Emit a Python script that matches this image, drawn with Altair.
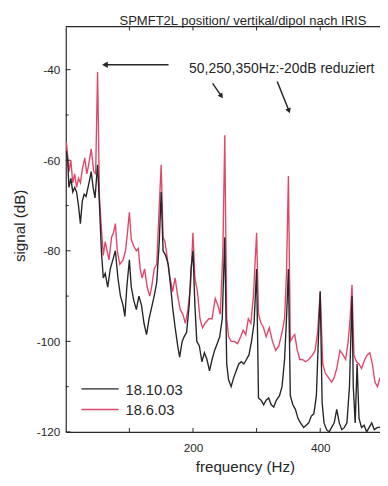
import altair as alt
import pandas as pd

# ---------------- data ----------------
series_names = ["18.10.03", "18.6.03"]

red_freq = [1, 3, 5, 8, 11, 14, 17, 20, 23, 26, 30, 33, 36, 40, 44, 47, 50, 53, 56, 59,
            62, 65, 68, 72, 75, 78, 81, 85, 90, 94, 97, 100, 103, 107, 111, 114, 117, 120, 124, 128,
            132, 135, 139, 143, 147, 150, 153, 156, 160, 164, 168, 172, 176, 180, 184, 188, 192, 196, 200, 203,
            207, 211, 215, 219, 225, 230, 235, 239, 243, 247, 250, 253, 256, 260, 265, 270, 275, 279, 283, 287,
            291, 295, 300, 303, 307, 311, 315, 320, 325, 330, 335, 340, 344, 347, 350, 353, 357, 360, 364, 368,
            372, 377, 382, 388, 392, 396, 400, 404, 408, 413, 418, 422, 426, 431, 436, 440, 444, 447, 450, 453,
            457, 461, 465, 470, 474, 478, 482, 486, 490, 494]
red_signal = [-56, -59, -62.5, -60, -65, -63, -66, -64, -65, -62, -59.5, -63, -61, -57.5, -62.5, -63, -40.5, -68, -75, -81,
              -78, -80, -82, -77, -76, -74, -80, -83, -82, -80, -76, -71.5, -77.5, -79, -80, -79.5, -84, -86, -84, -88,
              -90, -88, -84, -83, -70, -61, -77, -78, -82, -86, -89, -86, -90, -93, -94, -96, -93, -88, -76, -86,
              -89, -95, -97, -96, -95, -95, -90.5, -92, -94, -80, -54.5, -95, -99, -100, -100, -100.5, -99, -97.5, -98.5, -95,
              -96, -90, -76, -94, -96, -97, -99, -97, -100, -102, -101, -98, -95, -85, -63.5, -100, -99, -98.5, -102, -104,
              -104, -104.5, -104, -103, -102, -98, -89, -105, -107, -108, -109, -108, -106, -102, -103, -104, -100, -95, -87.5, -103,
              -104.5, -105, -106, -104, -103, -102.5, -105, -109, -110, -108]

black_freq = [1, 3, 5, 8, 11, 14, 17, 20, 23, 26, 29, 32, 35, 38, 40, 43, 46, 50, 53, 56,
              59, 62, 66, 70, 74, 78, 82, 86, 90, 93, 96, 100, 103, 107, 111, 115, 119, 123, 127, 131,
              135, 139, 143, 147, 150, 153, 157, 161, 165, 168, 172, 176, 179, 183, 186, 190, 194, 197, 200, 203,
              206, 210, 214, 218, 222, 226, 230, 234, 238, 242, 246, 250, 253, 256, 260, 264, 268, 272, 276, 280,
              284, 288, 292, 296, 300, 303, 307, 311, 315, 319, 323, 327, 331, 336, 340, 344, 347, 350, 353, 357,
              361, 365, 369, 374, 378, 382, 386, 390, 394, 397, 400, 403, 406, 410, 414, 418, 422, 426, 430, 434,
              438, 442, 446, 449, 450, 452, 455, 458, 461, 465, 469, 473, 477, 481, 485, 490, 494]
black_signal = [-58, -60, -66, -64, -67, -66, -67, -70, -74, -69, -67.5, -68, -66, -64, -62.5, -66, -68.3, -61, -70, -80,
                -86, -85, -88, -84, -82, -80, -86, -90, -92, -94.5, -88, -82, -88, -91, -93, -90, -92, -96, -98.5, -95,
                -92.5, -90, -87, -78, -67, -80, -81, -83, -88, -92.5, -97, -101, -103.5, -100, -99, -98, -92, -84, -80, -92,
                -100, -101, -104.5, -102.5, -104, -106.5, -104, -102, -100.5, -99, -95, -77, -105, -108.5, -110, -108, -106.5, -105, -104.5, -105,
                -104, -103, -100, -96, -84, -112.5, -113, -114, -113, -112.5, -114, -114.5, -113, -112, -110, -104, -95, -84, -112, -114,
                -115, -117, -118, -119, -118.5, -118, -116.5, -116, -112, -100, -89, -113.5, -118, -119.5, -120, -119, -118, -115, -118, -119.5,
                -119, -118, -110, -95, -90, -110, -118, -105, -117, -119, -118.5, -120, -119, -118, -119.5, -119, -119]

y_major = [-120, -100, -80, -60, -40]
y_minor = [-110, -90, -70, -50]
x_ticks = [100, 200, 300, 400]
x_labels = [200, 400]

title_text = "SPMFT2L position/ vertikal/dipol nach IRIS"
note_text = "50,250,350Hz:-20dB reduziert"
x_title = "frequency (Hz)"
y_title = "signal (dB)"

# ---------------- styling ----------------
RED = "#e0476a"
BLACK = "#262626"
FONT = "Liberation Sans"
W, H = 321, 414
XDOM = [0, 494]
YDOM = [-120, -30.5]

df_red = pd.DataFrame({"freq": red_freq, "signal": red_signal, "series": series_names[1]})
df_black = pd.DataFrame({"freq": black_freq, "signal": black_signal, "series": series_names[0]})

xs = alt.Scale(domain=XDOM, nice=False, zero=False)
ys = alt.Scale(domain=YDOM, nice=False, zero=False)

x_axis = alt.Axis(
    values=x_labels, title=x_title, grid=False, ticks=False, labelPadding=11,
    labelFontSize=12, labelFont=FONT, labelColor=BLACK,
    domainColor=BLACK, domainWidth=1.2,
    titleFont=FONT, titleFontSize=15.5, titleFontWeight="normal", titleColor=BLACK,
    titleX=183, titleY=35.5, titleBaseline="middle", titleAlign="center")
y_axis = alt.Axis(
    values=y_major, title=y_title, grid=False, ticks=False, labelPadding=6,
    labelExpr="datum.value < 0 ? '-' + (-datum.value) : '' + datum.value",
    labelFontSize=12, labelFont=FONT, labelColor=BLACK,
    domainColor=BLACK, domainWidth=1.2,
    titleFont=FONT, titleFontSize=15.5, titleFontWeight="normal", titleColor=BLACK,
    titleX=-47, titleY=203, titleAngle=270, titleBaseline="middle", titleAlign="center")

x_enc = alt.X("freq:Q", scale=xs, axis=x_axis)
y_enc = alt.Y("signal:Q", scale=ys, axis=y_axis)

red_line = alt.Chart(df_red).mark_line(color=RED, strokeWidth=1.4, clip=True).encode(x=x_enc, y=y_enc)
black_line = alt.Chart(df_black).mark_line(color=BLACK, strokeWidth=1.4, clip=True).encode(x=x_enc, y=y_enc)

# inward ticks (same fields/encodings as the data so the axes merge cleanly)
ymaj = alt.Chart(pd.DataFrame({"signal": y_major})).mark_rule(color=BLACK, strokeWidth=1).encode(
    y=y_enc, x=alt.value(0), x2=alt.value(5))
ymin = alt.Chart(pd.DataFrame({"signal": y_minor})).mark_rule(color=BLACK, strokeWidth=1).encode(
    y=y_enc, x=alt.value(0), x2=alt.value(3))
xbot = alt.Chart(pd.DataFrame({"freq": x_ticks})).mark_rule(color=BLACK, strokeWidth=1).encode(
    x=x_enc, y=alt.value(H), y2=alt.value(H - 4))
xtop = alt.Chart(pd.DataFrame({"freq": x_ticks})).mark_rule(color=BLACK, strokeWidth=1).encode(
    x=x_enc, y=alt.value(0), y2=alt.value(4))
top_frame = alt.Chart(pd.DataFrame({"a": [0]})).mark_rule(color=BLACK, strokeWidth=1.2).encode(
    x=alt.value(0), x2=alt.value(W), y=alt.value(0))

# title & annotation
title_mark = alt.Chart(pd.DataFrame({"t": [title_text]})).mark_text(
    font=FONT, fontSize=13.3, color=BLACK, align="center", baseline="middle").encode(
    text="t:N", x=alt.value(181), y=alt.value(-6))
note_mark = alt.Chart(pd.DataFrame({"t": [note_text]})).mark_text(
    font=FONT, fontSize=14.2, color=BLACK, align="left", baseline="middle").encode(
    text="t:N", x=alt.value(126), y=alt.value(43))

arrow_h = alt.Chart(pd.DataFrame({"a": [0]})).mark_rule(color=BLACK, strokeWidth=1.5).encode(
    x=alt.value(40), x2=alt.value(105), y=alt.value(39))
arrow_h_head = alt.Chart(pd.DataFrame({"a": [0]})).mark_point(
    shape="triangle-left", filled=True, color=BLACK, size=45, opacity=1).encode(
    x=alt.value(40), y=alt.value(39))
arrow_1 = alt.Chart(pd.DataFrame({"a": [0]})).mark_rule(color=BLACK, strokeWidth=1.5).encode(
    x=alt.value(150), x2=alt.value(159), y=alt.value(58), y2=alt.value(71))
arrow_1_head = alt.Chart(pd.DataFrame({"a": [0]})).mark_point(
    shape="triangle-down", filled=True, color=BLACK, size=35, opacity=1, angle=325).encode(
    x=alt.value(159), y=alt.value(71))
arrow_2 = alt.Chart(pd.DataFrame({"a": [0]})).mark_rule(color=BLACK, strokeWidth=1.5).encode(
    x=alt.value(216), x2=alt.value(228), y=alt.value(56), y2=alt.value(86))
arrow_2_head = alt.Chart(pd.DataFrame({"a": [0]})).mark_point(
    shape="triangle-down", filled=True, color=BLACK, size=35, opacity=1, angle=339).encode(
    x=alt.value(228), y=alt.value(86))

# legend (manual)
leg_black = alt.Chart(pd.DataFrame({"a": [0]})).mark_rule(color=BLACK, strokeWidth=1.5).encode(
    x=alt.value(16), x2=alt.value(54), y=alt.value(370))
leg_red = alt.Chart(pd.DataFrame({"a": [0]})).mark_rule(color=RED, strokeWidth=1.5).encode(
    x=alt.value(16), x2=alt.value(54), y=alt.value(391))
leg_t1 = alt.Chart(pd.DataFrame({"t": [series_names[0]]})).mark_text(
    font=FONT, fontSize=15, color=BLACK, align="left", baseline="middle").encode(
    text="t:N", x=alt.value(61), y=alt.value(371))
leg_t2 = alt.Chart(pd.DataFrame({"t": [series_names[1]]})).mark_text(
    font=FONT, fontSize=15, color=BLACK, align="left", baseline="middle").encode(
    text="t:N", x=alt.value(61), y=alt.value(392))

chart = alt.layer(
    red_line, black_line, ymaj, ymin, xbot, xtop, top_frame,
    title_mark, note_mark, arrow_h, arrow_h_head, arrow_1, arrow_1_head, arrow_2, arrow_2_head,
    leg_black, leg_red, leg_t1, leg_t2
).properties(
    width=W, height=H,
    autosize=alt.AutoSizeParams(type="none"),
    padding={"left": 59, "top": 14, "right": 0, "bottom": 42},
    background="white",
).configure_view(stroke=None)

chart.save("out.html", embed_options={"renderer": "svg", "actions": False})
